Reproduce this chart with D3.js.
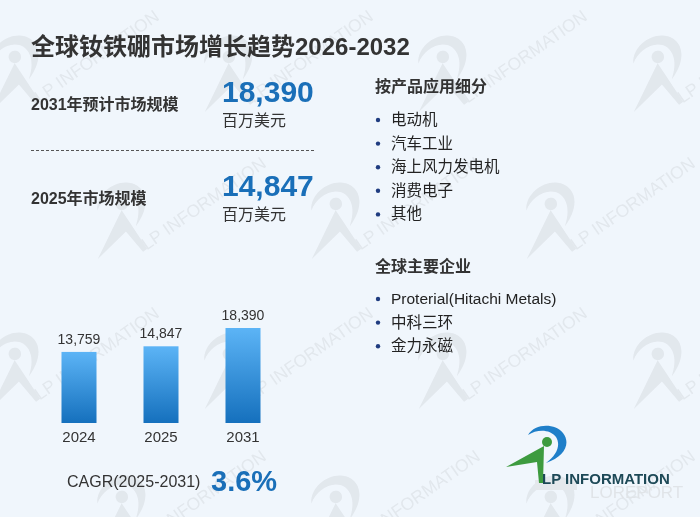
<html>
<head>
<meta charset="utf-8">
<style>
  body { margin: 0; background: #f0f6fc; }
  svg { display: block; }
  text { font-family: "Liberation Sans", Arial, "Noto Sans CJK SC", sans-serif; }
</style>
</head>
<body>
<svg id="svg" width="700" height="517"></svg>
<script src="https://cdn.jsdelivr.net/npm/d3@7"></script>
<script type="text/javascript">
const title = "全球钕铁硼市场增长趋势2026-2032";
const kpiLabels = ["2031年预计市场规模", "2025年市场规模"];
const kpiValues = [18390, 14847];
const kpiUnit = "百万美元";
const years = ["2024", "2025", "2031"];
const sizes = [13759, 14847, 18390];
const cagrLabel = "CAGR(2025-2031)";
const cagrValue = 3.6;
const segHeading = "按产品应用细分";
const segments = ["电动机", "汽车工业", "海上风力发电机", "消费电子", "其他"];
const compHeading = "全球主要企业";
const companies = ["Proterial(Hitachi Metals)", "中科三环", "金力永磁"];

const svg = d3.select("#svg");
const fmt = d3.format(",");
const ink = "#333333";
const blue = "#1a6fb8";

svg.append("rect").attr("width", 700).attr("height", 517).attr("fill", "#f0f6fc");

// gradient for bars
const grad = svg.append("defs").append("linearGradient")
  .attr("id", "barGrad").attr("x1", 0).attr("y1", 0).attr("x2", 0).attr("y2", 1);
grad.append("stop").attr("offset", "0%").attr("stop-color", "#5cb4f6");
grad.append("stop").attr("offset", "100%").attr("stop-color", "#1570bd");

// logo shape, used for the watermark and the corner mark
function logo(g, arcCol, bodyCol, dotCol, textCol, bold, fs) {
  g.append("path")
    .attr("d", "M-19,-10 C-12,-22 8,-22 16,-12 C24,-2 18,12 -1,18 C10,10 14,0 9,-8 C3,-16 -10,-16 -19,-10 Z")
    .attr("fill", arcCol);
  g.append("path")
    .attr("d", "M-41,22 L-3,1 L-4,38 L-8,38 L-10,17 Z")
    .attr("fill", bodyCol);
  g.append("circle").attr("cx", 0).attr("cy", -3).attr("r", 5).attr("fill", dotCol);
  g.append("text").attr("x", -5).attr("y", 39)
    .attr("font-size", fs).attr("font-weight", bold ? "bold" : "normal")
    .attr("fill", textCol).text("LP INFORMATION");
}

// watermark tiles
const wm = svg.append("g").attr("opacity", 0.11);
[60, 207, 357, 500].forEach((yy, r) => {
  const xs = r % 2 === 0 ? [9, 223, 437, 652] : [116, 330, 545];
  xs.forEach(xx => {
    const g = wm.append("g").attr("transform", `translate(${xx + 8},${yy}) rotate(-35) scale(1.25)`);
    logo(g, "#777", "#777", "#777", "#777", false, 14);
  });
});

// title
svg.append("text").attr("x", 31).attr("y", 55)
  .attr("font-size", 24).attr("font-weight", "bold").attr("fill", ink)
  .text(title);

// headline numbers
const kpiY = [110, 204];
kpiLabels.forEach((lab, i) => {
  svg.append("text").attr("x", 31).attr("y", kpiY[i])
    .attr("font-size", 16).attr("font-weight", "bold").attr("fill", ink).text(lab);
  svg.append("text").attr("x", 222).attr("y", kpiY[i] - 8)
    .attr("font-size", 30).attr("font-weight", "bold").attr("fill", blue).text(fmt(kpiValues[i]));
  svg.append("text").attr("x", 222).attr("y", kpiY[i] + 16)
    .attr("font-size", 16).attr("fill", ink).text(kpiUnit);
});
svg.append("line").attr("x1", 31).attr("x2", 314).attr("y1", 150.5).attr("y2", 150.5)
  .attr("stroke", "#555").attr("stroke-dasharray", "3,2");

// bars
const x = d3.scaleBand().domain(years).range([38, 284]).paddingInner(0.573).paddingOuter(0.2865);
const y = d3.scaleLinear().domain([0, 18390]).range([423, 328]);

svg.append("g").selectAll("rect").data(sizes).join("rect")
  .attr("x", (d, i) => x(years[i]))
  .attr("y", d => y(d))
  .attr("width", x.bandwidth())
  .attr("height", d => y(0) - y(d))
  .attr("fill", "url(#barGrad)");

svg.append("g").selectAll("text").data(sizes).join("text")
  .attr("x", (d, i) => x(years[i]) + x.bandwidth() / 2)
  .attr("y", d => y(d) - 8)
  .attr("text-anchor", "middle").attr("font-size", 14).attr("fill", ink)
  .text(d => fmt(d));

const ax = svg.append("g").attr("transform", `translate(0,${y(0)})`)
  .call(d3.axisBottom(x).tickSize(0).tickPadding(8));
ax.select(".domain").remove();
ax.selectAll("text").attr("font-size", 15).attr("fill", ink)
  .style("font-family", "'Liberation Sans', Arial, sans-serif");

// CAGR
svg.append("text").attr("x", 67).attr("y", 487)
  .attr("font-size", 16).attr("fill", ink).text(cagrLabel);
svg.append("text").attr("x", 211).attr("y", 491)
  .attr("font-size", 29).attr("font-weight", "bold").attr("fill", blue).text(cagrValue + "%");

// right column lists
function list(head, items, headY, firstY) {
  svg.append("text").attr("x", 375).attr("y", headY)
    .attr("font-size", 16).attr("font-weight", "bold").attr("fill", ink).text(head);
  const rows = svg.append("g").selectAll("g").data(items).join("g")
    .attr("transform", (d, i) => `translate(0,${firstY + i * 23.6})`);
  rows.append("circle").attr("cx", 378).attr("cy", -5).attr("r", 2.2).attr("fill", "#1f3c80");
  rows.append("text").attr("x", 391).attr("y", 0)
    .attr("font-size", 15.5).attr("fill", "#222").text(d => d);
}
list(segHeading, segments, 92, 125);
list(compHeading, companies, 272, 304);

// corner logo
svg.append("rect").attr("x", 535).attr("y", 480).attr("width", 42).attr("height", 10).attr("fill", "#e4e8ec");
svg.append("text").attr("x", 590).attr("y", 498).attr("font-size", 17).attr("fill", "#e0e4e8").text("LOREPORT");
logo(svg.append("g").attr("transform", "translate(547,445)"), "#1f7fc9", "#3d9b3f", "#3d9b3f", "#1d4957", true, 15);
</script>
</body>
</html>
